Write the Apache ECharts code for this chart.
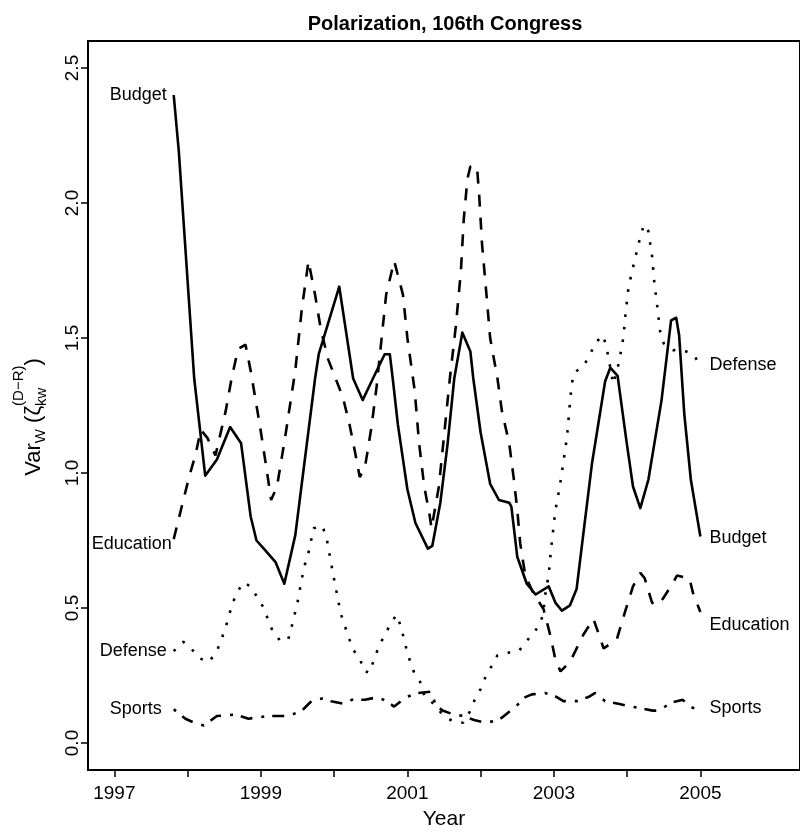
<!DOCTYPE html>
<html>
<head>
<meta charset="utf-8">
<script src="https://cdn.jsdelivr.net/npm/echarts@6/dist/echarts.min.js"></script>
<style>
  html, body { margin: 0; padding: 0; background: #fff; }
  #chart { width: 800px; height: 835px; }
</style>
</head>
<body>
<div id="chart"></div>
<script>
// values, [year, value]
const budget = [
  [1997.81, 2.40], [1997.88, 2.19], [1998.09, 1.35], [1998.24, 0.99], [1998.40, 1.05],
  [1998.58, 1.17], [1998.73, 1.11], [1998.86, 0.84], [1998.94, 0.75], [1999.04, 0.72],
  [1999.20, 0.67], [1999.32, 0.59], [1999.47, 0.77], [1999.74, 1.35], [1999.79, 1.44],
  [2000.07, 1.69], [2000.26, 1.35], [2000.39, 1.27], [2000.53, 1.35], [2000.69, 1.44],
  [2000.76, 1.44], [2000.80, 1.35], [2000.87, 1.18], [2001.00, 0.94], [2001.11, 0.815],
  [2001.28, 0.72], [2001.34, 0.73], [2001.45, 0.89], [2001.55, 1.11], [2001.64, 1.35],
  [2001.75, 1.52], [2001.86, 1.45], [2001.90, 1.35], [2002.00, 1.15], [2002.13, 0.96],
  [2002.25, 0.90], [2002.39, 0.89], [2002.42, 0.875], [2002.50, 0.69], [2002.63, 0.59],
  [2002.75, 0.55], [2002.93, 0.58], [2003.02, 0.52], [2003.11, 0.49], [2003.22, 0.51],
  [2003.31, 0.57], [2003.40, 0.77], [2003.52, 1.035], [2003.70, 1.34], [2003.77, 1.39],
  [2003.87, 1.36], [2003.99, 1.12], [2004.08, 0.95], [2004.18, 0.87], [2004.29, 0.975],
  [2004.47, 1.27], [2004.60, 1.565], [2004.67, 1.575], [2004.71, 1.51], [2004.78, 1.22],
  [2004.87, 0.975], [2005.00, 0.765]
];
const education = [
  [1997.81, 0.755], [1997.91, 0.865], [1998.02, 0.985], [1998.11, 1.07], [1998.18, 1.16],
  [1998.27, 1.13], [1998.38, 1.065], [1998.52, 1.23], [1998.60, 1.35], [1998.69, 1.46],
  [1998.79, 1.475], [1998.86, 1.38], [1998.99, 1.17], [1999.08, 1.01], [1999.14, 0.90],
  [1999.22, 0.95], [1999.33, 1.13], [1999.47, 1.38], [1999.56, 1.61], [1999.65, 1.785],
  [1999.74, 1.66], [1999.82, 1.53], [1999.92, 1.42], [2000.12, 1.28], [2000.21, 1.18],
  [2000.28, 1.085], [2000.35, 0.985], [2000.42, 1.02], [2000.51, 1.17], [2000.58, 1.32],
  [2000.71, 1.66], [2000.82, 1.785], [2000.94, 1.66], [2001.00, 1.50], [2001.10, 1.305],
  [2001.16, 1.11], [2001.23, 0.95], [2001.30, 0.85], [2001.33, 0.795], [2001.43, 0.95],
  [2001.58, 1.35], [2001.66, 1.54], [2001.73, 1.745], [2001.77, 1.94], [2001.82, 2.09],
  [2001.86, 2.135], [2001.95, 2.135], [2001.98, 2.03], [2002.02, 1.845], [2002.08, 1.66],
  [2002.13, 1.50], [2002.23, 1.35], [2002.29, 1.23], [2002.39, 1.11], [2002.45, 0.985],
  [2002.50, 0.865], [2002.54, 0.74], [2002.61, 0.62], [2002.72, 0.555], [2002.86, 0.495],
  [2002.95, 0.40], [2003.02, 0.31], [2003.09, 0.265], [2003.22, 0.30], [2003.40, 0.40],
  [2003.54, 0.46], [2003.68, 0.35], [2003.86, 0.385], [2003.97, 0.485], [2004.08, 0.58],
  [2004.18, 0.63], [2004.24, 0.61], [2004.34, 0.52], [2004.40, 0.51], [2004.49, 0.535],
  [2004.63, 0.595], [2004.68, 0.62], [2004.85, 0.61], [2004.90, 0.555], [2005.00, 0.485]
];
const defense = [
  [1997.81, 0.34], [1997.94, 0.375], [1998.05, 0.35], [1998.15, 0.315], [1998.29, 0.30],
  [1998.40, 0.34], [1998.51, 0.42], [1998.61, 0.515], [1998.67, 0.555], [1998.76, 0.595],
  [1998.86, 0.58], [1998.95, 0.54], [1999.04, 0.50], [1999.10, 0.455], [1999.16, 0.415],
  [1999.26, 0.38], [1999.37, 0.38], [1999.42, 0.43], [1999.50, 0.52], [1999.56, 0.61],
  [1999.60, 0.66], [1999.65, 0.705], [1999.72, 0.795], [1999.84, 0.805], [1999.90, 0.755],
  [1999.99, 0.62], [2000.09, 0.48], [2000.20, 0.39], [2000.26, 0.345], [2000.36, 0.31],
  [2000.39, 0.27], [2000.48, 0.26], [2000.54, 0.305], [2000.60, 0.35], [2000.67, 0.39],
  [2000.76, 0.435], [2000.85, 0.475], [2000.90, 0.44], [2000.95, 0.39], [2000.99, 0.345],
  [2001.04, 0.30], [2001.10, 0.255], [2001.19, 0.22], [2001.23, 0.175], [2001.38, 0.14],
  [2001.48, 0.105], [2001.62, 0.08], [2001.76, 0.075], [2001.85, 0.115], [2001.92, 0.16],
  [2002.00, 0.20], [2002.06, 0.24], [2002.15, 0.285], [2002.23, 0.325], [2002.39, 0.335],
  [2002.52, 0.34], [2002.62, 0.375], [2002.73, 0.41], [2002.81, 0.44], [2002.86, 0.485],
  [2002.87, 0.53], [2002.93, 0.625], [2002.96, 0.715], [2003.02, 0.86], [2003.08, 0.95],
  [2003.13, 1.04], [2003.18, 1.135], [2003.21, 1.23], [2003.24, 1.32], [2003.27, 1.37],
  [2003.40, 1.395], [2003.49, 1.435], [2003.56, 1.48], [2003.67, 1.51], [2003.72, 1.465],
  [2003.75, 1.42], [2003.81, 1.33], [2003.89, 1.41], [2003.95, 1.505], [2003.98, 1.595],
  [2004.02, 1.69], [2004.10, 1.785], [2004.18, 1.875], [2004.23, 1.92], [2004.29, 1.895],
  [2004.34, 1.805], [2004.37, 1.71], [2004.41, 1.62], [2004.45, 1.525], [2004.50, 1.48],
  [2004.63, 1.455], [2004.76, 1.455], [2004.90, 1.44], [2005.00, 1.40]
];
const sports = [
  [1997.81, 0.125], [1997.97, 0.09], [1998.09, 0.075], [1998.22, 0.065], [1998.40, 0.10],
  [1998.65, 0.105], [1998.83, 0.09], [1999.10, 0.10], [1999.38, 0.10], [1999.56, 0.12],
  [1999.69, 0.155], [1999.83, 0.165], [1999.96, 0.155], [2000.14, 0.145], [2000.24, 0.16],
  [2000.42, 0.16], [2000.60, 0.17], [2000.71, 0.155], [2000.82, 0.135], [2000.98, 0.17],
  [2001.14, 0.185], [2001.32, 0.19], [2001.39, 0.14], [2001.48, 0.12], [2001.64, 0.105],
  [2001.77, 0.10], [2001.91, 0.085], [2002.07, 0.075], [2002.25, 0.085], [2002.34, 0.105],
  [2002.48, 0.135], [2002.61, 0.17], [2002.70, 0.18], [2002.88, 0.185], [2003.04, 0.17],
  [2003.13, 0.155], [2003.31, 0.155], [2003.47, 0.17], [2003.56, 0.185], [2003.70, 0.155],
  [2003.88, 0.145], [2004.15, 0.13], [2004.35, 0.12], [2004.44, 0.12], [2004.60, 0.15],
  [2004.76, 0.16], [2004.85, 0.135], [2005.00, 0.12]
];

const xTicks = [1997, 1998, 1999, 2000, 2001, 2002, 2003, 2004, 2005];
const xTickLabels = [1997, 1999, 2001, 2003, 2005];
const yTicks = [0, 0.5, 1, 1.5, 2, 2.5];

const FONT = '"Liberation Sans", Arial, sans-serif';

// y axis title: Var_W ( zeta_kw^(D-R) ), built from rotated pieces
const ctx = document.createElement('canvas').getContext('2d');
function textWidth(s, size) {
  ctx.font = size + 'px "Liberation Sans"';
  return ctx.measureText(s).width;
}
const big = 22, small = 15;
const pieces = [
  [{ t: 'Var', size: big, base: 0 }],
  [{ t: 'W', size: small, base: 4 }],
  [{ t: ' ', size: big, base: 0 }],
  [{ t: '(', size: big, base: 0 }],
  [{ t: '\u03b6', size: big, base: 0 }],
  [{ t: 'kw', size: small, base: 5 }, { t: '(D\u2212R)', size: small, base: -18 }],
  [{ t: ')', size: big, base: 0 }]
];
const titleKids = [];
let pos = 0;
pieces.forEach(function (stack) {
  let w = 0;
  stack.forEach(function (p) {
    titleKids.push({
      type: 'text',
      x: pos,
      y: p.base - 0.35 * p.size,
      style: {
        text: p.t, fontSize: p.size, fontFamily: FONT, fill: '#000',
        align: 'left', verticalAlign: 'middle',
        textAlign: 'left', textVerticalAlign: 'middle'
      }
    });
    w = Math.max(w, textWidth(p.t, p.size));
  });
  pos += w;
});
const yTitle = {
  type: 'group',
  x: 42,
  y: 417 + pos / 2,
  rotation: Math.PI / 2,
  children: titleKids
};

const chart = echarts.init(document.getElementById('chart'));

const option = {
  animation: false,
  backgroundColor: '#fff',
  textStyle: { fontFamily: FONT, color: '#000' },
  title: {
    text: 'Polarization, 106th Congress',
    left: 440,
    top: 9,
    textAlign: 'center',
    textStyle: { fontSize: 20, fontWeight: 'bold', color: '#000', fontFamily: FONT }
  },
  grid: {
    left: 88, right: -4, top: 41, bottom: 59,
    show: true, borderColor: '#000', borderWidth: 2
  },
  xAxis: {
    type: 'value',
    min: 1996.64,
    max: 2006.36,
    axisLine: { show: false, onZero: false },
    splitLine: { show: false },
    axisTick: { show: true, customValues: xTicks, length: 7, lineStyle: { color: '#000', width: 1.5 } },
    axisLabel: {
      customValues: xTickLabels, fontSize: 19, color: '#000', margin: 14,
      formatter: function (v) { return String(v); }
    },
    name: 'Year',
    nameLocation: 'middle',
    nameGap: 39,
    nameTextStyle: { fontSize: 21, color: '#000' }
  },
  yAxis: {
    type: 'value',
    min: -0.1,
    max: 2.6,
    axisLine: { show: false, onZero: false },
    splitLine: { show: false },
    axisTick: { show: true, customValues: yTicks, length: 7, lineStyle: { color: '#000', width: 1.5 } },
    axisLabel: {
      customValues: yTicks, rotate: 90, fontSize: 19, color: '#000', margin: 6,
      formatter: function (v) { return v.toFixed(1); }
    }
  },
  graphic: [yTitle],
  series: [
    {
      name: 'Budget', type: 'line', data: budget, symbol: 'none', silent: true,
      lineStyle: { color: '#000', width: 2.6, type: 'solid', join: 'round' }
    },
    {
      name: 'Education', type: 'line', data: education, symbol: 'none', silent: true,
      lineStyle: { color: '#000', width: 2.6, type: [12, 11] }
    },
    {
      name: 'Defense', type: 'line', data: defense, symbol: 'none', silent: true,
      lineStyle: { color: '#000', width: 2.6, type: [2.6, 10], cap: 'butt' }
    },
    {
      name: 'Sports', type: 'line', data: sports, symbol: 'none', silent: true,
      lineStyle: { color: '#000', width: 2.6, type: [3, 8, 12, 9] }
    }
  ]
};

chart.setOption(option);

// names written next to the first / last point of each curve
const tagList = [
  [budget, 'Budget', true, 7, 0],
  [education, 'Education', true, 2, 5],
  [defense, 'Defense', true, 7, 0],
  [sports, 'Sports', true, 12, 0],
  [defense, 'Defense', false, 9, 0],
  [budget, 'Budget', false, 9, 2],
  [education, 'Education', false, 9, 13],
  [sports, 'Sports', false, 9, -3]
];
const tagEls = tagList.map(function (d) {
  const s = d[0];
  const p = d[2] ? s[0] : s[s.length - 1];
  const px = chart.convertToPixel({ gridIndex: 0 }, p);
  return {
    type: 'text',
    x: d[2] ? px[0] - d[3] : px[0] + d[3],
    y: px[1] + d[4],
    silent: true,
    style: {
      text: d[1], fontSize: 18, fontFamily: FONT, fill: '#000',
      align: d[2] ? 'right' : 'left', verticalAlign: 'middle',
      textAlign: d[2] ? 'right' : 'left', textVerticalAlign: 'middle'
    }
  };
});
chart.setOption({ graphic: [yTitle].concat(tagEls) });
</script>
</body>
</html>
